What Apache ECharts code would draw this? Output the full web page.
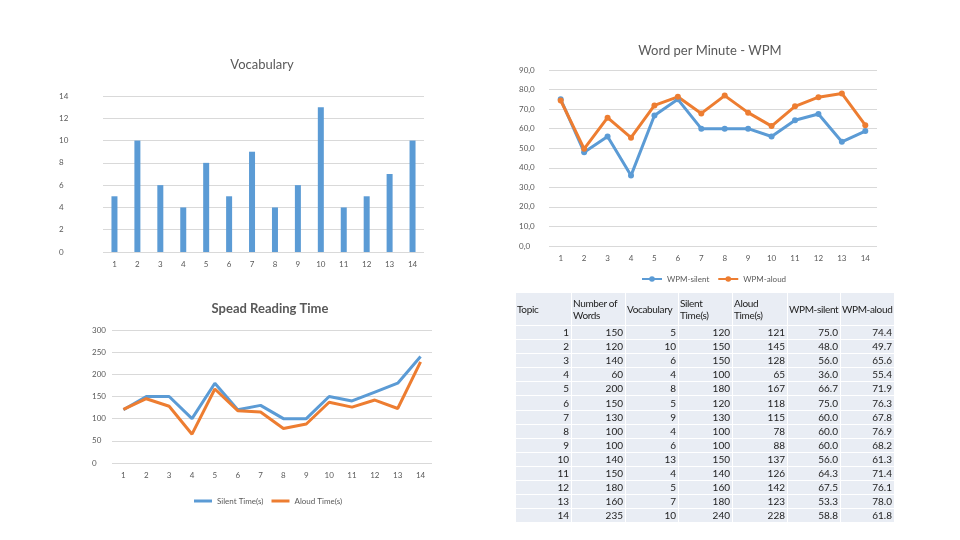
<!DOCTYPE html>
<html><head><meta charset="utf-8">
<script src="https://cdn.jsdelivr.net/npm/echarts@6/dist/echarts.min.js"></script>
<style>
html,body{margin:0;padding:0;background:#fff;}
#c{position:absolute;left:0;top:0;width:960px;height:540px;}
#t{position:absolute;left:515px;top:292px;border-collapse:separate;border-spacing:1px 1px;table-layout:fixed;width:380px;font-family:Lato,"Open Sans",sans-serif;font-size:10px;color:#222;}
#t td,#t th{background:#e9edf4;padding:0 2px;height:13.1px;line-height:13px;text-align:right;font-weight:normal;white-space:nowrap;overflow:visible;}
#t th{text-align:left;vertical-align:middle;height:32px;line-height:12px;padding:0 1px;letter-spacing:-0.35px;}
</style>
</head><body>
<div id="c"></div>
<table id="t"></table>
<script>
const topics = ['1','2','3','4','5','6','7','8','9','10','11','12','13','14'];
const numWords = [150,120,140,60,200,150,130,100,100,140,150,180,160,235];
const vocabulary = [5,10,6,4,8,5,9,4,6,13,4,5,7,10];
const silentTime = [120,150,150,100,180,120,130,100,100,150,140,160,180,240];
const aloudTime = [121,145,128,65,167,118,115,78,88,137,126,142,123,228];
const wpmSilent = [75.0,48.0,56.0,36.0,66.7,75.0,60.0,60.0,60.0,56.0,64.3,67.5,53.3,58.8];
const wpmAloud = [74.4,49.7,65.6,55.4,71.9,76.3,67.8,76.9,68.2,61.3,71.4,76.1,78.0,61.8];
const headers = ['Topic','Number of<br>Words','Vocabulary','Silent<br>Time(s)','Aloud<br>Time(s)','WPM-silent','WPM-aloud'];
const colWidths = [55,53,52,53,54,52,53];

// table
const tbl = document.getElementById('t');
let html = '<colgroup>' + colWidths.map(w=>'<col style="width:'+w+'px">').join('') + '</colgroup>';
html += '<tr>' + headers.map(h=>'<th>'+h+'</th>').join('') + '</tr>';
for (let i=0;i<topics.length;i++){
  html += '<tr><td>'+topics[i]+'</td><td>'+numWords[i]+'</td><td>'+vocabulary[i]+'</td><td>'+silentTime[i]+'</td><td>'+aloudTime[i]+'</td><td>'+wpmSilent[i].toFixed(1)+'</td><td>'+wpmAloud[i].toFixed(1)+'</td></tr>';
}
tbl.innerHTML = html;

const blue = '#5b9bd5', orange = '#ed7d31', gray = '#595959', grid = '#d9d9d9';
const font = 'Lato, "Open Sans", sans-serif';
const chart = echarts.init(document.getElementById('c'));
function xAx(g){return {type:'category',gridIndex:g,data:topics,axisLine:{show:false},axisTick:{show:false},
  axisLabel:{color:gray,fontSize:8,fontFamily:font,margin:8}};}
function yAx(g,max,intv,fmt){return {type:'value',gridIndex:g,min:0,max:max,interval:intv,
  axisLine:{show:false},axisTick:{show:false},splitLine:{lineStyle:{color:grid}},
  axisLabel:{color:gray,fontSize:8,fontFamily:font,margin:30,align:'left',formatter:fmt}};}
chart.setOption({
  animation:false,
  title:[
    {text:'Vocabulary',left:257,top:53,textAlign:'center',textStyle:{color:gray,fontSize:13,fontWeight:'normal',fontFamily:font}},
    {text:'Word per Minute - WPM',left:705,top:39,textAlign:'center',textStyle:{color:gray,fontSize:13,fontWeight:'normal',fontFamily:font}},
    {text:'Spead Reading Time',left:265,top:297,textAlign:'center',textStyle:{color:gray,fontSize:13,fontWeight:'bold',fontFamily:font}}
  ],
  grid:[
    {left:103,top:96,width:321,height:156},
    {left:549,top:70,width:328,height:176},
    {left:112,top:330,width:320,height:133}
  ],
  xAxis:[xAx(0),xAx(1),xAx(2)],
  yAxis:[
    Object.assign(yAx(0,14,2),{axisLabel:{color:gray,fontSize:8,fontFamily:font,margin:44,align:'left'}}),
    yAx(1,90,10,v=>v.toFixed(1).replace('.',',')),
    Object.assign(yAx(2,300,50),{axisLabel:{color:gray,fontSize:8,fontFamily:font,margin:20,align:'left'}})
  ],
  legend:[
    {data:['WPM-silent','WPM-aloud'],left:636,top:270,itemWidth:20,itemHeight:7,itemGap:8,
     textStyle:{color:gray,fontSize:8,fontFamily:font}},
    {data:['Silent Time(s)','Aloud Time(s)'],left:189,top:492,itemWidth:18,itemHeight:3,itemGap:8,icon:'rect',
     textStyle:{color:gray,fontSize:8,fontFamily:font}}
  ],
  series:[
    {type:'bar',xAxisIndex:0,yAxisIndex:0,data:vocabulary,barWidth:6,itemStyle:{color:blue}},
    {name:'WPM-silent',type:'line',xAxisIndex:1,yAxisIndex:1,data:wpmSilent,symbol:'circle',symbolSize:6,
     lineStyle:{color:blue,width:3},itemStyle:{color:blue}},
    {name:'WPM-aloud',type:'line',xAxisIndex:1,yAxisIndex:1,data:wpmAloud,symbol:'circle',symbolSize:6,
     lineStyle:{color:orange,width:3},itemStyle:{color:orange}},
    {name:'Silent Time(s)',type:'line',xAxisIndex:2,yAxisIndex:2,data:silentTime,showSymbol:false,symbol:'none',
     lineStyle:{color:blue,width:3},itemStyle:{color:blue}},
    {name:'Aloud Time(s)',type:'line',xAxisIndex:2,yAxisIndex:2,data:aloudTime,showSymbol:false,symbol:'none',
     lineStyle:{color:orange,width:3},itemStyle:{color:orange}}
  ]
});
</script>
</body></html>
